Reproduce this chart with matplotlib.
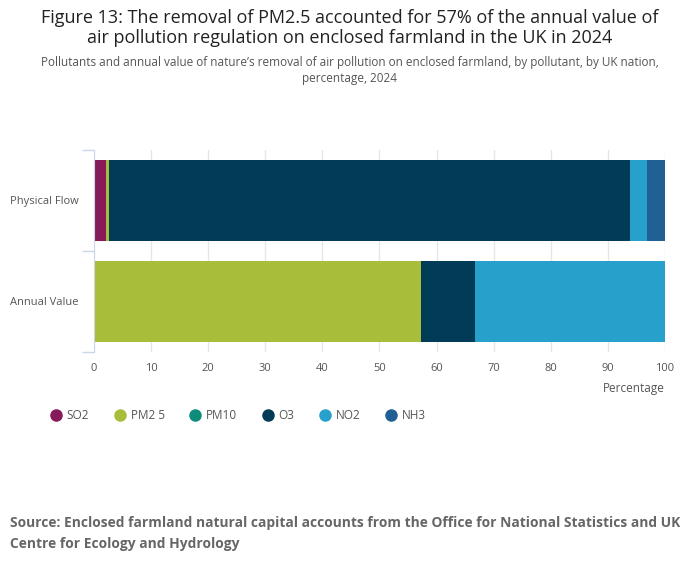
import matplotlib.pyplot as plt
from matplotlib.lines import Line2D
import numpy as np

plt.rcParams['font.family'] = ['Open Sans', 'DejaVu Sans']

categories = ['Physical Flow', 'Annual Value']
pollutants = ['SO2', 'PM2 5', 'PM10', 'O3', 'NO2', 'NH3']
colours = ['#871a5b', '#a8bd3a', '#0f8c79', '#003c57', '#27a0cc', '#206095']

# share of each pollutant, percentage
physical_flow = [2.2, 0.4, 0.05, 91.25, 2.9, 3.2]
annual_value = [0.0, 57.3, 0.0, 9.4, 33.3, 0.0]

fig = plt.figure(figsize=(7, 5.74), dpi=100)
ax = fig.add_axes([0.134, 0.3868, 0.816, 0.3519])

ypos = np.array([1, 0])  # Physical Flow on top
left = np.zeros(2)
for i, name in enumerate(pollutants):
    vals = np.array([physical_flow[i], annual_value[i]])
    ax.barh(ypos, vals, left=left, height=0.8, color=colours[i], linewidth=0)
    left += vals

ax.set_xlim(0, 100)
ax.set_ylim(-0.5, 1.5)
ax.set_xticks(range(0, 101, 10))
ax.set_yticks(ypos)
ax.set_yticklabels(categories)
ax.set_yticks([-0.5, 0.5, 1.5], minor=True)
ax.tick_params(axis='y', which='major', length=0, pad=11, labelsize=8, labelcolor='#555555')
ax.tick_params(axis='y', which='minor', length=9, color='#ccd6eb', width=1)
ax.tick_params(axis='x', length=0, pad=8, labelsize=8, labelcolor='#555555')
ax.grid(axis='x', color='#e6e6e6', linewidth=1)
ax.set_axisbelow(True)
for s in ['top', 'right', 'bottom']:
    ax.spines[s].set_visible(False)
ax.spines['left'].set_color('#ccd6eb')
ax.set_xlabel('Percentage', fontsize=8.5, color='#555555', loc='right', labelpad=6)

handles = [Line2D([], [], marker='o', linestyle='', markersize=8, color=c) for c in colours]
fig.legend(handles, pollutants, loc='center left', bbox_to_anchor=(0.055, 0.276), ncol=6,
           frameon=False, fontsize=8.5, labelcolor='#555555', handletextpad=0.3,
           columnspacing=2.0, handlelength=1.2)

fig.text(0.5, 0.984, 'Figure 13: The removal of PM2.5 accounted for 57% of the annual value of\n'
         'air pollution regulation on enclosed farmland in the UK in 2024',
         ha='center', va='top', fontsize=13, color='#222222', linespacing=1.15)
fig.text(0.5, 0.902, 'Pollutants and annual value of nature\u2019s removal of air pollution on enclosed farmland, '
         'by pollutant, by UK nation,\npercentage, 2024',
         ha='center', va='top', fontsize=8.5, color='#555555', linespacing=1.25)
fig.text(0.014, 0.071, 'Source: Enclosed farmland natural capital accounts from the Office for National Statistics and UK\n'
         'Centre for Ecology and Hydrology',
         ha='left', va='center', fontsize=9.9, fontweight='bold', color='#666666', linespacing=1.65)

fig.savefig('out.png', dpi=100)
